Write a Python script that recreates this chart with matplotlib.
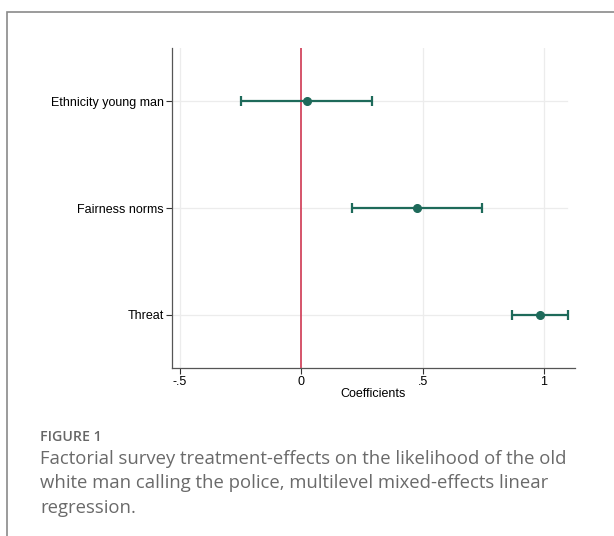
import matplotlib
matplotlib.use("Agg")
import matplotlib.pyplot as plt
from matplotlib.patches import Rectangle

categories = ["Ethnicity young man", "Fairness norms", "Threat"]
coefs = [0.023, 0.476, 0.984]
ci_low = [-0.246, 0.21, 0.868]
ci_high = [0.292, 0.745, 1.099]
xticks = [-0.5, 0, 0.5, 1]
xticklabels = ["-.5", "0", ".5", "1"]

green = "#1e6a5a"
red = "#d2465f"

fig = plt.figure(figsize=(6.14, 5.36), dpi=100)
fig.patch.set_facecolor("white")

# outer frame
fig.add_artist(Rectangle((7/614, -0.1), 1.2, 1 - 12/536 + 0.1, transform=fig.transFigure,
                         fill=False, edgecolor="#8a8a8a", linewidth=1.2))

ax = fig.add_axes([172/614, 1 - 368/536, (575 - 172)/614, (368 - 48)/536])
ypos = list(range(1, len(categories) + 1))

ax.set_xlim(-0.532, 1.128)
ax.set_ylim(3.5, 0.5)

for x in xticks:
    if x != 0:
        ax.axvline(x, color="#ececec", lw=0.9, zorder=0)
for y in ypos:
    ax.axhline(y, color="#ececec", lw=0.9, zorder=0, xmax=0.98)

ax.axvline(0, color=red, lw=1.3, zorder=1)

xerr = [[c - l for c, l in zip(coefs, ci_low)], [h - c for c, h in zip(coefs, ci_high)]]
ax.errorbar(coefs, ypos, xerr=xerr, fmt="o", color=green, ms=5.5, elinewidth=1.6,
            capsize=3.5, capthick=1.6, zorder=3)

ax.set_yticks(ypos)
ax.set_yticklabels(categories, fontsize=9, family="Liberation Sans")
ax.set_xticks(xticks)
ax.set_xticklabels(xticklabels, fontsize=9, family="Liberation Sans")
ax.set_xlabel("Coefficients", fontsize=9, family="Liberation Sans", labelpad=0)
ax.tick_params(axis="both", colors="#333333", length=4, width=0.8, pad=2)
ax.tick_params(axis="x", labelcolor="black")
ax.tick_params(axis="y", labelcolor="black")
for s in ["top", "right"]:
    ax.spines[s].set_visible(False)
for s in ["left", "bottom"]:
    ax.spines[s].set_color("#555555")
    ax.spines[s].set_linewidth(0.9)

fig.text(40/614, 1 - 437/536, "FIGURE 1", fontsize=10.2, family="Open Sans",
         fontweight="semibold", color="#666666", va="center", ha="left")
caption = ["Factorial survey treatment-effects on the likelihood of the old",
           "white man calling the police, multilevel mixed-effects linear",
           "regression."]
for i, line in enumerate(caption):
    fig.text(40/614, 1 - (459 + 24.5*i)/536, line, fontsize=13.3, family="Open Sans",
             color="#6a6a6a", va="center", ha="left")

fig.savefig("out.png", dpi=100)
